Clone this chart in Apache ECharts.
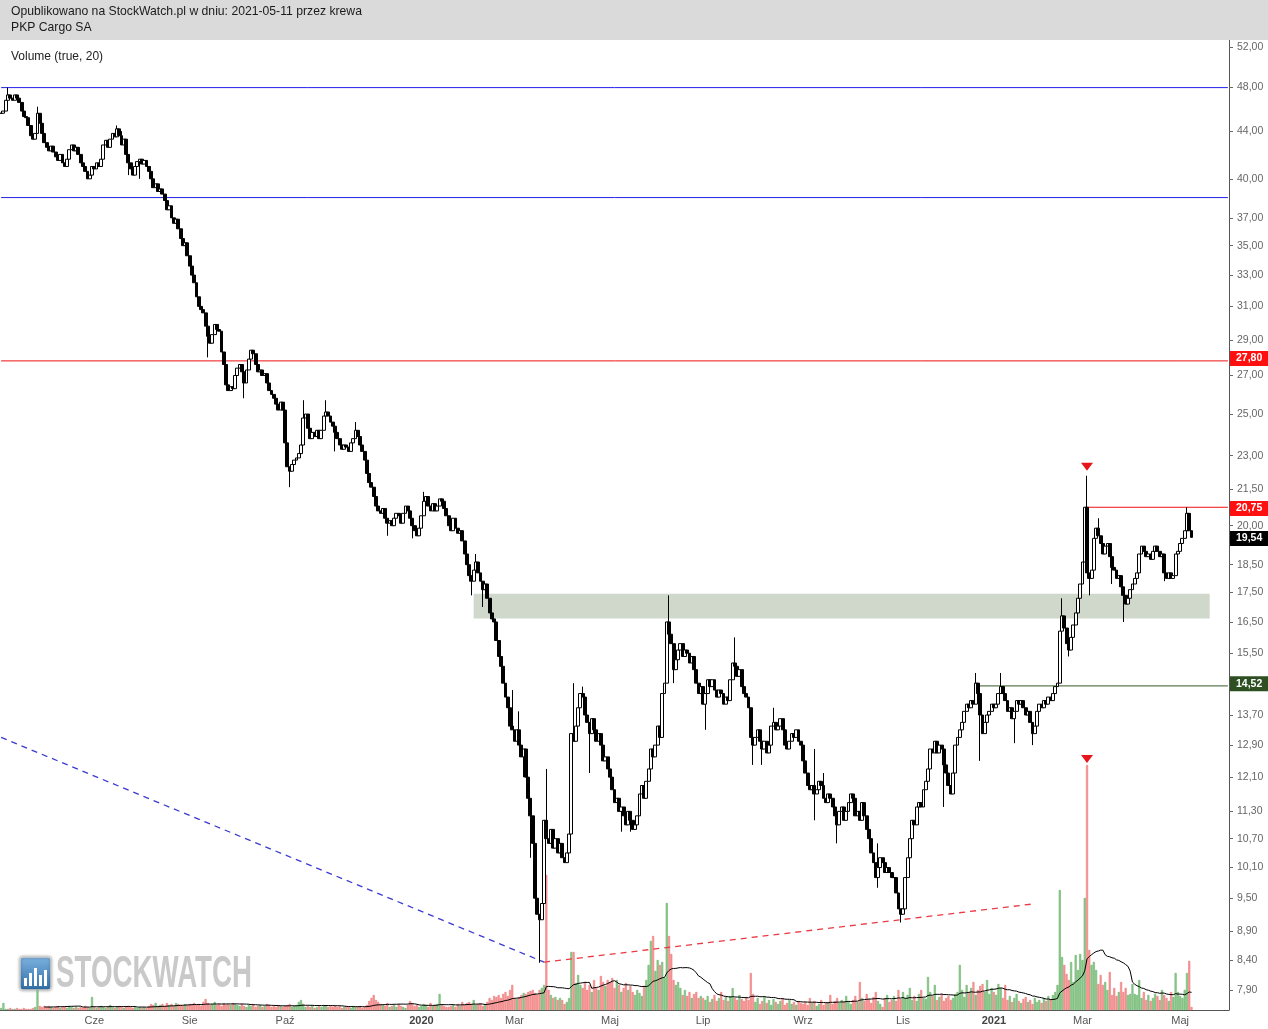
<!DOCTYPE html>
<html><head><meta charset="utf-8">
<script src="https://cdn.jsdelivr.net/npm/echarts@6/dist/echarts.min.js"></script>
<style>html,body{margin:0;padding:0;background:#fff}#c{width:1268px;height:1029px}</style>
</head><body><div id="c"></div>
<script>
// ---------------- DATA ----------------
const headerLine1 = 'Opublikowano na StockWatch.pl w dniu: 2021-05-11 przez krewa';
const headerLine2 = 'PKP Cargo SA';
const indicatorLabel = 'Volume (true, 20)';

// GPW non-trading weekdays in the period
const holidays = ['2019-04-19','2019-04-22','2019-05-01','2019-05-03','2019-06-20','2019-08-15','2019-11-01','2019-11-11','2019-12-24','2019-12-25','2019-12-26','2019-12-31','2020-01-01','2020-01-06','2020-04-10','2020-04-13','2020-05-01','2020-06-11','2020-11-11','2020-12-24','2020-12-25','2020-12-31','2021-01-01','2021-01-06','2021-04-02','2021-04-05','2021-05-03'];

const tickMonths = ['2019-06','2019-08','2019-10','2020-01','2020-03','2020-05','2020-07','2020-09','2020-11','2021-01','2021-03','2021-05'];
const tickLabels = ['Cze','Sie','Paź','2020','Mar','Maj','Lip','Wrz','Lis','2021','Mar','Maj'];

const priceTicks = [52,48,44,40,37,35,33,31,29,27,25,23,21.5,20,18.5,17.5,16.5,15.5,14.5,13.7,12.9,12.1,11.3,10.7,10.1,9.5,8.9,8.4,7.9];

// daily closes (PLN)
const closes2019 = [
 45.6,45.8,46.8,47.3,47.0,46.8,47.3,47.0,46.6,45.8,45.3,45.2,44.5,43.6,43.3,43.8,45.6,44.7,43.8,43.0,
 42.6,42.3,42.7,42.2,41.8,41.5,42.0,41.3,41.0,41.6,42.4,42.8,42.3,42.6,42.0,41.3,41.0,40.6,40.0,40.3,41.0,
 40.8,41.3,41.0,41.6,42.8,43.2,42.6,43.3,43.8,43.5,44.2,43.6,42.8,43.3,42.0,41.3,40.8,40.3,41.0,
 41.4,41.6,41.2,41.5,41.0,40.6,40.0,39.3,39.6,39.0,39.2,38.8,38.3,37.6,37.9,37.0,36.6,36.9,36.2,35.5,35.0,35.2,34.3,
 33.6,33.0,32.5,31.6,31.0,30.8,30.6,29.8,29.2,28.8,29.3,29.9,29.6,29.5,28.3,27.6,26.5,26.2,26.4,26.3,27.0,
 27.4,27.6,27.2,26.6,27.3,27.9,28.4,28.2,27.6,27.2,27.3,27.0,27.1,26.6,26.2,26.0,25.8,25.5,25.2,25.6,25.2,
 23.6,22.5,22.3,22.6,22.8,22.9,23.1,23.5,24.8,25.0,24.3,23.8,24.1,23.9,24.2,23.8,24.2,24.9,25.1,24.9,24.6,24.4,24.1,
 23.8,23.5,23.3,23.5,23.4,23.2,23.6,23.8,24.2,23.9,23.5,23.2,22.8,22.2,21.8,21.6,21.2,20.8,20.6,
 20.5,20.7,20.3,20.1,20.2,20.0,20.3,20.5,20.4,20.1,20.5,20.8,20.6,20.3,20.0,19.8,19.6,19.9
];
const closes2020 = [
 20.4,21.0,21.2,20.8,20.6,20.9,20.6,20.8,21.1,21.0,20.7,20.4,20.0,19.8,20.3,19.9,19.7,19.8,19.4,18.9,18.5,
 18.1,17.9,18.3,18.6,18.2,17.9,17.6,17.8,17.3,16.8,16.6,16.5,15.9,15.4,15.1,14.6,14.2,13.9,13.4,13.3,
 13.0,13.3,12.9,12.6,12.8,12.1,11.6,11.2,10.6,9.5,9.2,9.1,9.4,11.1,10.7,10.6,10.9,10.5,10.7,10.4,10.6,10.3,
 10.2,10.4,10.8,13.2,13.0,13.4,13.9,14.3,14.2,13.7,13.5,13.2,13.6,13.3,13.0,13.2,12.9,12.5,12.6,12.3,
 12.1,11.8,11.5,11.6,11.3,11.4,11.2,11.0,11.3,11.1,10.9,11.0,11.2,11.7,11.9,11.6,12.0,12.3,12.8,12.6,
 12.9,13.4,13.1,14.3,14.6,16.5,16.1,15.8,15.0,15.3,15.6,15.8,15.4,15.6,15.5,15.2,15.4,15.0,14.6,14.3,14.5,
 14.0,14.3,14.7,14.5,14.7,14.4,14.2,14.4,14.3,14.0,14.2,14.1,14.7,15.2,15.1,14.8,15.0,14.5,14.3,14.2,13.9,13.1,12.9,
 13.1,13.3,13.0,12.8,13.0,12.7,12.9,13.4,13.5,13.3,13.4,13.6,13.3,12.9,12.8,13.0,13.2,13.1,13.3,13.0,12.9,
 12.5,12.2,11.9,11.8,11.9,11.7,11.8,12.0,11.9,11.6,11.5,11.7,11.6,11.4,11.2,11.0,11.3,11.4,11.1,11.3,11.5,11.7,
 11.6,11.2,11.3,11.1,11.5,11.2,10.9,10.7,10.4,10.2,9.9,10.1,10.3,10.2,10.0,10.1,10.0,9.9,9.9,9.6,9.3,9.2,
 9.3,9.9,10.3,10.7,11.1,11.0,11.4,11.5,11.4,11.8,12.0,12.3,12.8,12.7,13.0,12.7,12.9,12.8,12.4,12.2,
 11.9,11.7,12.2,12.9,13.1,13.3,13.5,13.8,14.0,13.9,14.1,14.0,14.6,14.3,13.7,13.2,13.5,13.7,13.8,14.0
];
const closes2021 = [
 13.9,14.0,14.3,14.5,14.3,14.1,13.8,13.9,13.6,13.8,14.1,14.0,14.1,13.9,13.7,13.8,13.5,13.2,13.4,
 13.8,14.0,13.9,14.1,14.0,14.2,14.1,14.3,14.5,14.6,16.2,16.7,16.3,15.8,15.6,16.0,16.4,16.8,17.3,17.8,
 18.6,20.75,18.2,18.0,18.3,19.5,19.9,19.6,19.3,18.9,19.2,19.3,18.8,18.4,18.3,18.0,18.1,17.7,17.4,17.1,17.3,17.6,17.8,
 18.0,18.2,18.9,19.2,19.0,18.8,18.9,18.7,19.0,19.2,19.0,18.8,18.9,18.2,18.0,18.2,18.0,18.1,18.9,19.0,
 19.3,19.5,19.8,20.5,19.8,19.54
];
// notable shadows: [day number, high, low]
const shadows = [[3,48.0,null],[16,46.2,null],[51,44.5,null],[53,44.0,null],[56,null,40.3],[61,null,40.0],[91,null,28.0],[107,null,25.8],[127,null,21.6],[133,25.7,null],[143,25.7,null],[147,null,23.2],[156,24.6,null],[170,null,19.6],[181,null,19.5],[186,21.4,null],[207,null,17.4],[209,18.9,null],[212,null,17.0],[225,14.4,null],[228,13.8,null],[230,null,12.1],[233,null,10.3],[237,null,8.35],[240,12.3,null],[252,14.6,null],[256,14.5,null],[259,null,12.2],[273,null,10.85],[277,null,10.85],[294,17.4,null],[296,null,14.6],[310,null,13.3],[323,16.0,null],[331,null,12.4],[335,null,12.4],[340,13.9,null],[358,12.8,11.1],[362,12.2,null],[368,null,10.6],[386,10.6,9.7],[396,null,9.05],[415,null,11.4],[429,14.9,null],[431,null,12.5],[440,14.9,null],[446,null,12.95],[454,null,12.9],[467,17.3,null],[470,null,15.4],[475,null,17.4],[478,22.1,null],[479,null,17.4],[483,20.3,null],[489,null,17.8],[494,null,16.5],[512,null,17.9],[522,20.75,null]];

// daily volume (thousand shares)
const volumes2019 = [
 2,7,1,1,2,1,1,2,1,1,2,1,1,1,2,3,20,4,3,4,
 3,4,3,2,3,4,2,3,3,2,4,3,2,3,2,3,2,4,3,2,13,
 3,2,3,4,3,2,3,5,3,2,3,4,3,2,3,4,3,2,3,
 2,3,2,3,2,4,6,5,7,4,5,6,4,7,5,6,4,7,6,5,4,6,5,
 6,5,7,5,6,4,8,11,7,5,6,8,5,6,4,7,5,6,5,7,6,
 5,4,6,4,3,5,4,6,3,4,5,3,4,6,5,3,4,3,5,4,3,
 4,5,6,3,4,5,8,10,6,3,4,3,5,2,3,4,3,5,4,3,4,3,4,
 3,4,2,3,4,3,2,4,3,3,4,2,3,5,9,12,15,10,8,
 6,5,4,7,3,4,5,3,6,4,3,2,5,9,7,4,5,3
];
const volumes2020 = [
 4,6,5,3,7,4,5,6,16,5,4,3,3,4,5,3,6,4,8,5,7,
 8,6,10,5,6,7,4,6,8,12,10,14,13,15,12,16,18,14,20,25,
 12,11,13,15,17,16,18,19,20,17,15,20,22,25,135,20,15,12,13,10,12,10,
 6,8,12,58,58,27,35,25,22,28,20,25,18,30,22,20,34,28,24,30,
 28,32,22,30,25,18,22,27,20,24,18,15,20,17,14,24,30,45,69,74,
 39,50,45,48,32,107,74,56,30,25,28,22,15,20,14,18,12,16,18,12,14,
 12,10,14,8,11,15,9,12,18,10,13,9,14,22,12,10,15,11,9,13,10,37,16,
 8,12,6,9,14,7,10,5,11,8,6,9,12,5,7,10,6,8,5,9,7,
 6,8,5,12,7,9,4,6,10,5,7,8,15,6,9,12,7,10,8,14,9,6,
 10,14,8,28,12,9,16,11,7,13,18,9,6,3,12,15,8,10,14,9,20,11,
 18,12,15,22,10,14,9,16,20,12,11,33,18,14,25,10,13,16,9,12,
 14,10,12,16,18,45,20,13,25,18,22,28,15,20,24,26,18,30,16,22
];
const volumes2021 = [
 18,15,26,22,12,25,10,14,8,12,16,9,7,11,13,8,10,6,12,
 8,10,7,12,9,14,11,15,18,25,120,53,45,36,30,48,28,55,40,56,
 50,112,245,60,45,48,40,26,35,25,28,20,38,15,22,14,18,28,18,22,15,16,26,
 16,15,30,12,18,10,15,9,12,16,14,10,20,15,12,9,18,13,37,18,
 14,12,20,37,49,3
];

// drawn levels
const blueLevels = [48.0, 38.53];
const redLevel = 27.80;
const peakLevel = 20.75, peakDay = 478;
const supportLevel = 14.52, supportDay = 429;
const lastPrice = 19.54;
const zoneTop = 17.46, zoneBottom = 16.61, zoneFromDay = 208, zoneToDay = 532;
const blueTrend = [[0, 13.1], [239, 8.36]];
const redTrend = [[239, 8.36], [454, 9.39]];
const maxVolDay = 478;

// ---------------- BUILD ----------------
const LN = Math.log;
const closes = closes2019.concat(closes2020, closes2021);
const volumes = volumes2019.concat(volumes2020, volumes2021);
const N_CAT = 541;
const holSet = new Set(holidays);
const dates = [];
for (let t = Date.UTC(2019, 3, 1); dates.length < N_CAT; t += 86400000) {
  const d = new Date(t), wd = d.getUTCDay(), s = d.toISOString().slice(0, 10);
  if (wd !== 0 && wd !== 6 && !holSet.has(s)) dates.push(s);
}
const firstOfMonth = {};
dates.forEach((d, i) => { const k = d.slice(0, 7); if (!(k in firstOfMonth)) firstOfMonth[k] = i; });
const tickMap = new Map();
tickMonths.forEach((m, j) => tickMap.set(firstOfMonth[m], tickLabels[j]));

const shadowMap = new Map(shadows.map(s => [s[0], s]));
const candleData = closes.map((c, i) => {
  const o = i ? closes[i - 1] : c;
  let h = Math.max(o, c), l = Math.min(o, c);
  const s = shadowMap.get(i);
  if (s) { if (s[1] != null) h = Math.max(h, s[1]); if (s[2] != null) l = Math.min(l, s[2]); }
  return [LN(o), LN(c), LN(l), LN(h)];
});
const volData = volumes.map((v, i) => {
  const up = i === 0 || closes[i] >= closes[i - 1];
  return { value: v, itemStyle: up ? { color: '#8fd08f', borderColor: '#5da55d', borderWidth: 0.5 } : { color: '#ff9a9a', borderColor: '#e26a6a', borderWidth: 0.5 } };
});
const maData = volumes.map((v, i) => {
  if (i < 19) return '-';
  let s = 0; for (let k = i - 19; k <= i; k++) s += volumes[k];
  return s / 20;
});

const fmtTick = v => {
  let best = priceTicks[0];
  for (const t of priceTicks) if (Math.abs(LN(t) - v) < Math.abs(LN(best) - v)) best = t;
  return best.toFixed(2).replace('.', ',');
};
const tag = (txt, bg) => ({ show: true, position: 'end', distance: 1, formatter: txt, backgroundColor: bg, color: '#fff', fontWeight: 'bold', fontSize: 10.5, fontFamily: 'Liberation Sans, Arial, sans-serif', padding: [2, 6, 1, 6], lineHeight: 12 });
const lastDate = dates[N_CAT - 1];
const levelLine = (fromDay, v, color) => ({
  type: 'line', xAxisIndex: 0, yAxisIndex: 0, symbol: 'none', silent: true, z: 4,
  data: [[dates[fromDay], LN(v)], [lastDate, LN(v)]],
  lineStyle: { color: color, width: 1 }, itemStyle: { color: color }
});
const NOLINE = { color: 'rgba(0,0,0,0)', width: 0 };

const chart = echarts.init(document.getElementById('c'), null, { renderer: 'canvas', width: 1268, height: 1029 });
chart.setOption({
  animation: false,
  backgroundColor: '#fff',
  grid: { left: -2.43, right: 39, top: 40, bottom: 19 },
  xAxis: {
    type: 'category', data: dates, boundaryGap: true,
    axisLine: { lineStyle: { color: '#555', width: 1 } },
    axisTick: { alignWithLabel: true, length: 4, interval: (i) => tickMap.has(i), lineStyle: { color: '#555' } },
    axisLabel: {
      interval: (i) => tickMap.has(i), margin: 5, color: '#555', fontSize: 11, fontFamily: 'Liberation Sans, Arial, sans-serif',
      formatter: (v, i) => { const l = tickMap.get(i) || ''; return /^\d{4}$/.test(l) ? '{b|' + l + '}' : l; },
      rich: { b: { fontWeight: 'bold', color: '#444', fontSize: 11, fontFamily: 'Liberation Sans, Arial, sans-serif' } }
    },
    splitLine: { show: false }
  },
  yAxis: [{
    type: 'value', position: 'right', min: LN(7.598), max: LN(52.79),
    axisLine: { show: true, lineStyle: { color: '#555' } },
    axisTick: { show: true, length: 4, customValues: priceTicks.map(LN), lineStyle: { color: '#666' } },
    axisLabel: { customValues: priceTicks.map(LN), formatter: fmtTick, color: '#666', fontSize: 10.5, margin: 8, fontFamily: 'Liberation Sans, Arial, sans-serif' },
    splitLine: { show: false }
  }, {
    type: 'value', min: 0, max: 970, show: false, splitLine: { show: false }
  }],
  series: [{
    type: 'bar', name: 'Volume', xAxisIndex: 0, yAxisIndex: 1, data: volData, barWidth: 2, z: 1, silent: true,
    markPoint: { silent: true, label: { show: false }, data: [{ coord: [dates[maxVolDay], volumes[maxVolDay]], symbol: 'triangle', symbolRotate: 180, symbolSize: [12, 8], symbolOffset: [0, -6], itemStyle: { color: '#e8141b' } }] }
  }, {
    type: 'line', name: 'MA20', xAxisIndex: 0, yAxisIndex: 1, data: maData, symbol: 'none', z: 2, silent: true,
    lineStyle: { color: '#000', width: 1 }
  },
  levelLine(0, blueLevels[0], '#2222e8'),
  levelLine(0, blueLevels[1], '#2222e8'),
  levelLine(0, redLevel, '#f01010'),
  levelLine(peakDay, peakLevel, '#f01010'),
  levelLine(supportDay, supportLevel, '#355a26'),
  {
    type: 'candlestick', name: 'PKP Cargo SA', xAxisIndex: 0, yAxisIndex: 0, data: candleData, barWidth: 3.4, z: 5, silent: true, large: false,
    itemStyle: { color: '#fff', color0: '#000', borderColor: '#000', borderColor0: '#000', borderWidth: 1 },
    markArea: { silent: true, itemStyle: { color: '#d0d7cb' }, data: [[{ xAxis: dates[zoneFromDay], yAxis: LN(zoneTop) }, { xAxis: dates[zoneToDay], yAxis: LN(zoneBottom) }]] },
    markPoint: { silent: true, label: { show: false }, data: [{ coord: [dates[peakDay], LN(22.1)], symbol: 'triangle', symbolRotate: 180, symbolSize: [12, 8], symbolOffset: [0, -9], itemStyle: { color: '#e8141b' } }] },
    markLine: {
      silent: true, symbol: 'none', animation: false, label: { show: false },
      data: [
        { yAxis: LN(redLevel), lineStyle: NOLINE, label: tag('27,80', '#ff1010') },
        { yAxis: LN(peakLevel), lineStyle: NOLINE, label: tag('20,75', '#ff1010') },
        { yAxis: LN(supportLevel), lineStyle: NOLINE, label: tag('14,52', '#2e4f22') },
        { yAxis: LN(lastPrice), lineStyle: NOLINE, label: tag('19,54', '#000') },
        [{ coord: [dates[blueTrend[0][0]], LN(blueTrend[0][1])], lineStyle: { color: '#3a3ad0', width: 1.3, type: [6, 5] } }, { coord: [dates[blueTrend[1][0]], LN(blueTrend[1][1])] }],
        [{ coord: [dates[redTrend[0][0]], LN(redTrend[0][1])], lineStyle: { color: '#ea3a44', width: 1.3, type: [6, 5] } }, { coord: [dates[redTrend[1][0]], LN(redTrend[1][1])] }]
      ]
    }
  }],
  graphic: [
    { type: 'rect', z: 100, silent: true, shape: { x: 0, y: 0, width: 1268, height: 40 }, style: { fill: '#dadada' } },
    { type: 'text', z: 101, silent: true, x: 11, y: 12, style: { text: headerLine1, font: '12.2px "Liberation Sans", Arial, sans-serif', fill: '#1a1a1a', textVerticalAlign: 'middle' } },
    { type: 'text', z: 101, silent: true, x: 11, y: 28, style: { text: headerLine2, font: '12.2px "Liberation Sans", Arial, sans-serif', fill: '#1a1a1a', textVerticalAlign: 'middle' } },
    { type: 'text', z: 101, silent: true, x: 11, y: 57, style: { text: indicatorLabel, font: '12px "Liberation Sans", Arial, sans-serif', fill: '#222', textVerticalAlign: 'middle' } },
    { type: 'group', z: 0, silent: true, children: [
      { type: 'rect', z: 0, shape: { x: 20, y: 957, width: 31, height: 33, r: 3 }, style: { fill: new echarts.graphic.LinearGradient(0, 0, 0, 1, [{ offset: 0, color: '#7db3e0' }, { offset: 1, color: '#2f6ea8' }]), stroke: '#d0d0d0', lineWidth: 1.5, shadowBlur: 3, shadowColor: 'rgba(0,0,0,0.3)' } },
      { type: 'rect', z: 1, shape: { x: 24, y: 978, width: 3, height: 8 }, style: { fill: '#fff' } },
      { type: 'rect', z: 1, shape: { x: 29, y: 973, width: 3, height: 13 }, style: { fill: '#fff' } },
      { type: 'rect', z: 1, shape: { x: 34, y: 968, width: 3, height: 18 }, style: { fill: '#fff' } },
      { type: 'rect', z: 1, shape: { x: 39, y: 975, width: 3, height: 11 }, style: { fill: '#fff' } },
      { type: 'rect', z: 1, shape: { x: 44, y: 970, width: 3, height: 16 }, style: { fill: '#fff' } },
      { type: 'text', z: 1, x: 56, y: 975, scaleX: 0.63, style: { text: 'STOCKWATCH', font: 'bold 44px "Liberation Sans", Arial, sans-serif', fill: '#c9c9c9', stroke: '#fff', lineWidth: 2, textVerticalAlign: 'middle', shadowBlur: 3, shadowColor: 'rgba(0,0,0,0.35)' } }
    ] }
  ]
});
</script></body></html>
